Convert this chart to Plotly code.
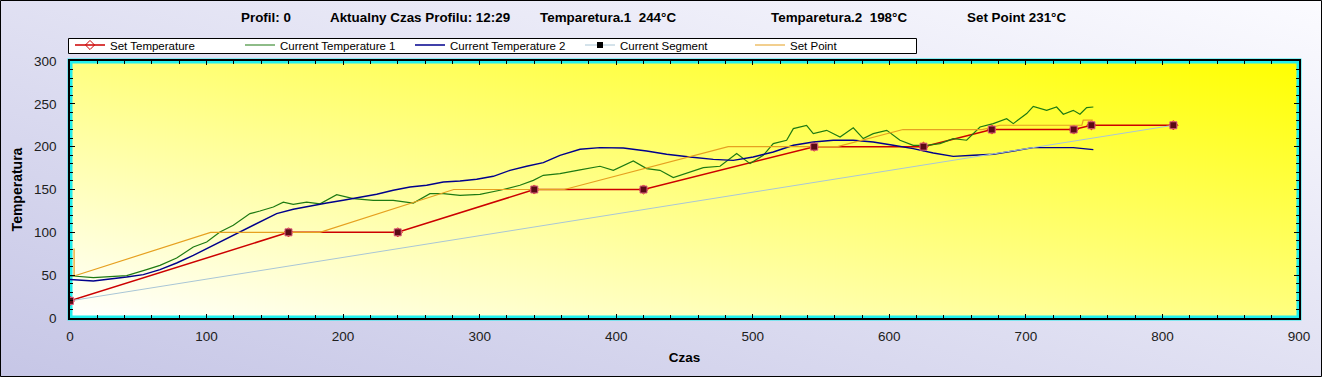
import base64
import plotly.graph_objects as go

# ---------------- data ----------------
set_x = [0, 160, 240, 340, 420, 545, 625, 675, 735, 748, 808]
set_y = [20, 100, 100, 150, 150, 200, 200, 220, 220, 225, 225]

t1_x = [0, 2.4, 17.1, 41.5, 56.1, 65.9, 78.1, 90.3, 100.1, 109.8, 119.6, 131.8, 139.1, 148.9,
        156.2, 163.5, 173.3, 183.1, 195.3, 207.5, 222.1, 236.7, 251.4, 263.6, 273.4, 285.6,
        300.2, 314.9, 329.5, 339.3, 346.6, 358.8, 373.5, 388.1, 397.9, 412.5, 422.3, 432.0,
        441.8, 454.0, 463.8, 476.0, 488.2, 498.0, 507.7, 515.0, 524.8, 529.7, 539.4, 544.3,
        554.1, 563.9, 573.6, 580.9, 588.2, 598.1, 607.8, 617.5, 627.3, 637.1, 646.8, 656.6,
        666.4, 676.1, 685.9, 690.8, 700.6, 705.4, 715.2, 722.5, 727.4, 734.7, 739.6, 744.5, 749.4]
t1_y = [49, 49.0, 47.1, 49.5, 56.5, 61.5, 70, 82.9, 88.7, 100.4, 108.2, 121.9, 124.9, 129.6,
        135.3, 132.7, 135.3, 133.3, 144.0, 139.4, 137.4, 137.4, 134.2, 145.2, 145.2, 143.2,
        144.4, 149.1, 154.9, 160.7, 166.6, 168.5, 173.0, 177.1, 172.4, 183.3, 174.4, 172.4,
        163.9, 170.4, 175.5, 177.1, 191.9, 180.2, 189.9, 203.6, 207.5, 221.1, 224.9, 215.2,
        219.1, 211.3, 222.1, 209.4, 215.2, 219.1, 207.5, 201.6, 201.6, 203.6, 209.4, 207.5,
        223.0, 226.9, 232.7, 226.9, 238.6, 247.1, 242.4, 246.3, 237.8, 242.4, 237.8, 245.6, 246.3]

t2_x = [0, 2.4, 17.1, 41.5, 53.7, 65.9, 78.1, 90.3, 102.5, 112.3, 126.9, 139.1, 151.3, 163.5,
        175.7, 188.0, 200.1, 212.4, 224.6, 236.7, 249.0, 261.2, 273.4, 285.6, 297.8, 310.0,
        322.2, 334.4, 346.6, 358.8, 373.5, 388.1, 405.2, 422.3, 436.9, 454.0, 471.1, 485.7,
        500.3, 515.0, 529.7, 544.3, 559.0, 573.6, 588.2, 602.9, 617.5, 632.2, 646.8, 661.5,
        676.1, 690.8, 705.4, 720.1, 734.7, 749.4]
t2_y = [45, 44.8, 43.2, 47.9, 50.7, 56.5, 64.2, 73.2, 82.9, 91.5, 102.4, 112.1, 121.9, 126.9,
        130.7, 134.2, 137.4, 140.5, 144.4, 149.1, 152.9, 154.9, 158.8, 160.0, 161.9, 165.4,
        172.4, 177.1, 181.4, 189.9, 197.0, 198.9, 198.5, 195.0, 191.1, 188.0, 185.2, 184.0,
        188.0, 193.8, 201.6, 205.4, 207.5, 207.5, 205.4, 201.6, 197.7, 192.6, 188.7, 189.9,
        191.1, 195.0, 198.9, 198.9, 198.9, 196.5]

seg_x = [0, 808]
seg_y = [20, 225]

sp_x = [3, 3, 103, 183, 281, 362, 482, 562, 610, 668, 681, 741, 742, 749]
sp_y = [81, 49, 100, 100, 150, 150, 200, 200, 220, 220, 225, 225, 231, 231]

title_parts = ["Profil: 0", "Aktualny Czas Profilu: 12:29", "Temparetura.1\u00a0\u00a0244°C",
               "Temparetura.2\u00a0\u00a0198°C", "Set Point 231°C"]
title_px = [239, 328, 538, 769, 965]

# ---------------- layout geometry ----------------
W, H = 1322, 377
ML, MR, MT, MB = 70, 23, 61, 59
PW = W - ML - MR
PH = H - MT - MB


def px_x(p):
    return (p - ML) / PW


def px_y(p):
    return (H - MB - p) / PH


FONT = "Liberation Sans, Arial, sans-serif"


def svg_grad(c0, c1):
    s = ('<svg xmlns="http://www.w3.org/2000/svg" width="100" height="100" viewBox="0 0 100 100" '
         'preserveAspectRatio="none"><defs><linearGradient id="g" x1="0" y1="1" x2="1" y2="0">'
         f'<stop offset="0" stop-color="{c0}"/><stop offset="1" stop-color="{c1}"/>'
         '</linearGradient></defs><rect width="100" height="100" fill="url(#g)"/></svg>')
    return "data:image/svg+xml;base64," + base64.b64encode(s.encode()).decode()


fig = go.Figure()

fig.add_trace(go.Scatter(x=set_x, y=set_y, name="Set Temperature", mode="lines+markers",
                         line=dict(color="#cc0000", width=1.5),
                         marker=dict(symbol="diamond-open", color="#cc0000", size=7)))
fig.add_trace(go.Scatter(x=t1_x, y=t1_y, name="Current Temperature 1", mode="lines",
                         line=dict(color="#1e7a12", width=1.2)))
fig.add_trace(go.Scatter(x=t2_x, y=t2_y, name="Current Temperature 2", mode="lines",
                         line=dict(color="#00008c", width=1.4)))
fig.add_trace(go.Scatter(x=seg_x, y=seg_y, name="Current Segment", mode="lines+markers",
                         line=dict(color="#a9c6d6", width=1),
                         marker=dict(symbol="square", color="#000000", size=6)))
fig.add_trace(go.Scatter(x=sp_x, y=sp_y, name="Set Point", mode="lines",
                         line=dict(color="#e6a020", width=1.2)))
fig.add_trace(go.Scatter(x=set_x, y=set_y, mode="markers", showlegend=False, hoverinfo="skip",
                         marker=dict(symbol="square", color="#5a0a14", size=7,
                                     line=dict(color="#e06080", width=1))))

annotations = []
for txt, p in zip(title_parts, title_px):
    annotations.append(dict(text=f"<b>{txt}</b>", x=px_x(p), y=px_y(18), xref="paper", yref="paper",
                            xanchor="left", yanchor="middle", showarrow=False,
                            font=dict(family=FONT, size=13.4, color="#000000")))

images = [
    dict(source=svg_grad("#c6c6e6", "#fbfbff"), xref="paper", yref="paper",
         x=px_x(0), y=px_y(0), sizex=W / PW, sizey=H / PH, sizing="stretch",
         xanchor="left", yanchor="top", layer="below"),
    dict(source=svg_grad("#ffffff", "#ffff00"), xref="paper", yref="paper",
         x=0, y=1, sizex=1, sizey=1, sizing="stretch",
         xanchor="left", yanchor="top", layer="below"),
]

shapes = [
    dict(type="rect", xref="paper", yref="paper", x0=0, x1=1, y0=0, y1=1,
         line=dict(color="#22eeee", width=5), layer="below"),
    dict(type="rect", xref="paper", yref="paper", x0=px_x(0.5), x1=px_x(W - 0.5),
         y0=px_y(H - 0.5), y1=px_y(0.5), line=dict(color="#000000", width=1), layer="above"),
    # legend frame
    dict(type="rect", xref="paper", yref="paper", x0=px_x(68.5), x1=px_x(916.5),
         y0=px_y(53.5), y1=px_y(38.5), fillcolor="#ffffff",
         line=dict(color="#000000", width=1), layer="above"),
]

axis_common = dict(showline=True, linecolor="#000000", linewidth=1.5, mirror="allticks",
                   ticks="inside", tickcolor="#000000", showgrid=False, zeroline=False,
                   tickfont=dict(family=FONT, size=13.5, color="#202020"))
overlay_common = dict(showline=False, ticks="outside", tickcolor="#000000", showgrid=False,
                      zeroline=False, showticklabels=False)

fig.update_layout(
    width=W, height=H, autosize=False,
    margin=dict(l=ML, r=MR, t=MT, b=MB, pad=0),
    paper_bgcolor="#e4e4f2", plot_bgcolor="#ffffd0",
    font=dict(family=FONT, color="#000000"),
    showlegend=True,
    legend=dict(orientation="h", x=px_x(70), y=px_y(30.5), xanchor="left", yanchor="top",
                bgcolor="rgba(0,0,0,0)", borderwidth=0,
                font=dict(family=FONT, size=11.5, color="#000000"),
                entrywidth=125, entrywidthmode="pixels", tracegroupgap=0),
    xaxis=dict(range=[0, 900], dtick=100, tick0=0, ticklen=4, ticklabelstandoff=5,
               minor=dict(dtick=20, ticks="inside", ticklen=3, tickcolor="#000000"),
               title=dict(text="<b>Czas</b>", font=dict(family=FONT, size=13.5), standoff=10),
               **axis_common),
    yaxis=dict(range=[0, 300], dtick=50, tick0=0, ticklen=5, ticklabelstandoff=9,
               minor=dict(dtick=10, ticks="inside", ticklen=3, tickcolor="#000000"),
               title=dict(text="<b>Temperatura</b>", font=dict(family=FONT, size=14), standoff=8),
               **axis_common),
    xaxis2=dict(range=[0, 900], dtick=100, tick0=0, ticklen=5, overlaying="x", anchor="y",
                side="bottom", minor=dict(dtick=20, ticks="outside", ticklen=3, tickcolor="#000000"),
                **overlay_common),
    yaxis2=dict(range=[0, 300], dtick=50, tick0=0, ticklen=6, overlaying="y", anchor="x",
                side="left", minor=dict(dtick=10, ticks="outside", ticklen=3, tickcolor="#000000"),
                **overlay_common),
    annotations=annotations,
    images=images,
    shapes=shapes,
)

fig.write_html("out.html")
